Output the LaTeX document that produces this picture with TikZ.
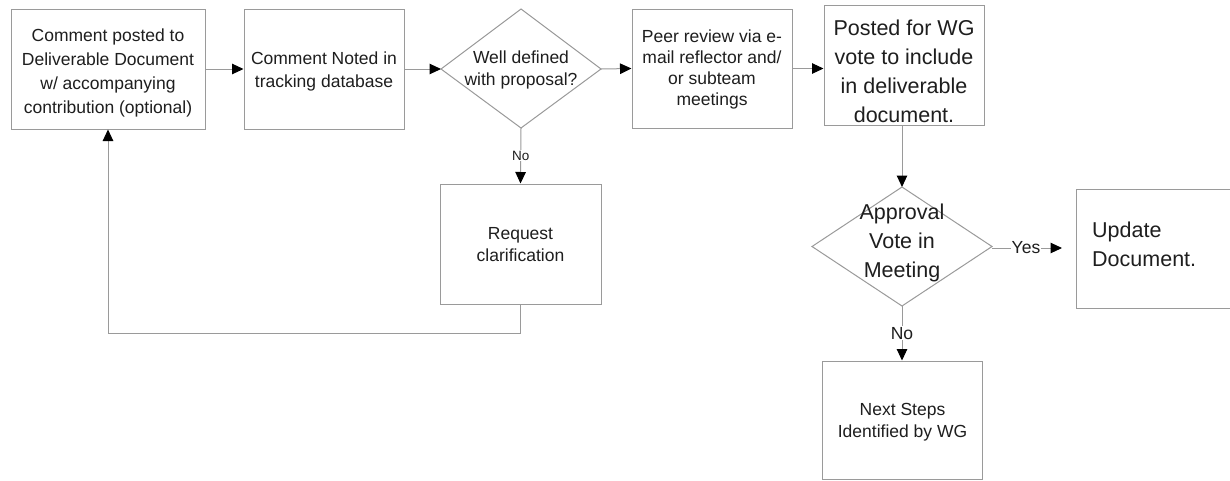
\documentclass[tikz,border=0pt]{standalone}
\usepackage{fontspec}
\setmainfont{Liberation Sans}
\usetikzlibrary{arrows.meta}
\definecolor{edgegray}{HTML}{9A9A9A}
\definecolor{txt}{HTML}{1E1E1E}
\tikzset{
  box/.style={draw=edgegray, line width=1pt, fill=white, inner sep=0pt, text=txt, align=center, font=\fontsize{17.5}{22.5}\selectfont},
  bigtxt/.style={font=\fontsize{21.5}{29}\selectfont},
  dia/.style={draw=edgegray, line width=1pt, fill=white},
  dtext/.style={text=txt, align=center, inner sep=0pt},
  conn/.style={draw=edgegray, line width=1pt, -{Triangle[length=11.5pt,width=10.5pt,black]}},
  plain/.style={draw=edgegray, line width=1pt},
  lbl/.style={fill=white, text=txt, inner sep=1pt},
}
\begin{document}
\begin{tikzpicture}[x=1pt,y=-1pt]
\useasboundingbox (0,0) rectangle (1230,480);
% boxes
\node[box, minimum width=194, minimum height=120] (b1) at (108,69) {};
\node[dtext, font=\fontsize{17.5}{23.7}\selectfont] (b1t) at (108,73) {Comment posted to\\Deliverable Document\\w/ accompanying\\contribution (optional)};
\node[box, minimum width=160, minimum height=120] (b2) at (324,69) {};
\node[dtext, font=\fontsize{17.5}{23}\selectfont] (b2t) at (324,71) {Comment Noted in\\tracking database};
\node[box, minimum width=160, minimum height=119] (b3) at (712,68.5) {};
\node[dtext, font=\fontsize{17.5}{20.8}\selectfont] (b3t) at (712,69.5) {Peer review via e-\\mail reflector and/\\or subteam\\meetings};
\node[box, minimum width=160, minimum height=120] (b4) at (904,65) {};
\node[dtext, bigtxt] (b4t) at (904,71) {Posted for WG\\vote to include\\in deliverable\\document.};
\node[box, minimum width=161, minimum height=120] (req) at (520.5,244) {};
\node[dtext, font=\fontsize{17.5}{22}\selectfont] (reqt) at (520.5,245) {Request\\clarification};
\node[box, minimum width=160, minimum height=118] (next) at (902.5,420) {};
\node[dtext, font=\fontsize{17.5}{22}\selectfont] (nextt) at (902.5,422) {Next Steps\\Identified by WG};
\node[box, minimum width=160, minimum height=119] (upd) at (1156,248.5) {};
\node[dtext, bigtxt, align=left, anchor=west] (updt) at (1092,244.5) {Update\\Document.};
% diamonds
\path[dia] (441,69) -- (521,9) -- (601,69) -- (521,128) -- cycle;
\node[dtext, font=\fontsize{17.5}{22}\selectfont] (d1t) at (521,70) {Well defined\\with proposal?};
\path[dia] (812,246.5) -- (902,187) -- (992,246.5) -- (902,306) -- cycle;
\node[dtext, bigtxt] (d2t) at (902,242.5) {Approval\\Vote in\\Meeting};
\coordinate (d1w) at (441,69);
\coordinate (d1e) at (601,69);
\coordinate (d1s) at (521,128);
\coordinate (d2n) at (902,187);
\coordinate (d2e) at (992,246.5);
\coordinate (d2s) at (902,306);
\coordinate (yesend) at (1062,248);
% connectors
\draw[conn] (b1.east) -- (b2.west);
\draw[conn] (b2.east) -- (d1w);
\draw[conn] (d1e) -- (b3.west);
\draw[conn] (b3.east) -- (b4.west |- b3.east);
\draw[conn] (b4.south -| d2n) -- (d2n);
\draw[conn] (d1s) -- node[lbl, font=\fontsize{13.5}{15}\selectfont] (no1) {No} (req.north);
\draw[conn] (d2s) -- node[lbl, font=\fontsize{17.5}{20}\selectfont] (no2) {No} (next.north -| d2s);
\draw[conn] (d2e |- yesend) -- node[lbl, font=\fontsize{17.5}{20}\selectfont, xshift=-1pt] (yes) {Yes} (yesend);
\draw[conn] (req.south) -- ++(0,29) -| (b1.south);
\end{tikzpicture}
\end{document}
